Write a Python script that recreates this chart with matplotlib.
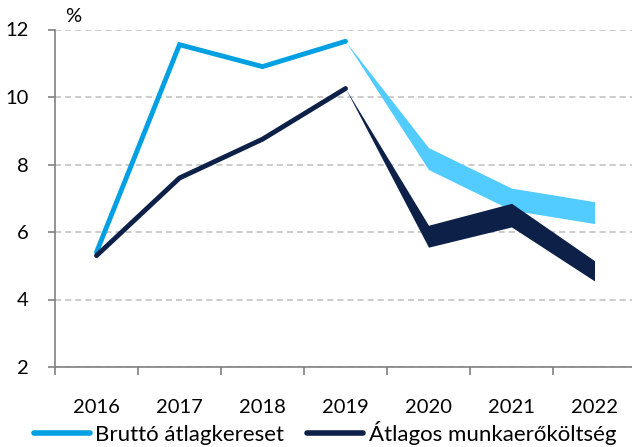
import matplotlib
matplotlib.use('Agg')
import matplotlib.pyplot as plt
from matplotlib.lines import Line2D

years = ['2016', '2017', '2018', '2019', '2020', '2021', '2022']

# actual values 2016-2019
gross_wage = [5.4, 11.55, 10.9, 11.65]
labour_cost = [5.3, 7.6, 8.75, 10.25]

# forecast ranges 2019-2022 (2019 is the last actual point)
gross_low = [11.65, 7.85, 6.65, 6.25]
gross_high = [11.65, 8.5, 7.3, 6.9]
cost_low = [10.25, 5.55, 6.15, 4.55]
cost_high = [10.25, 6.2, 6.85, 5.15]

labels = ['Bruttó átlagkereset', 'Átlagos munkaerőköltség']

LIGHT = '#00A0E3'
LIGHT_BAND = '#52CBFF'
DARK = '#0C2048'

plt.rcParams['font.family'] = ['Lato', 'DejaVu Sans']
plt.rcParams['font.size'] = 14.5

W, H = 632, 447
fig = plt.figure(figsize=(W / 100, H / 100), dpi=100)
ax = fig.add_axes([55 / W, 80 / H, 581 / W, 337.5 / H])

x_act = list(range(len(gross_wage)))
x_fc = list(range(len(gross_wage) - 1, len(years)))

ax.fill_between(x_fc, gross_low, gross_high, color=LIGHT_BAND, lw=0, zorder=2)
ax.fill_between(x_fc, cost_low, cost_high, color=DARK, lw=0, zorder=3)
ax.plot(x_act, gross_wage, color=LIGHT, lw=3.5, solid_capstyle='round',
        solid_joinstyle='miter', zorder=4)
ax.plot(x_act, labour_cost, color=DARK, lw=3.5, solid_capstyle='round',
        solid_joinstyle='miter', zorder=4)

ax.set_xlim(-0.5, len(years) - 0.5)
ax.set_ylim(2, 12)
ax.set_yticks([2, 4, 6, 8, 10, 12])
ax.set_xticks(range(len(years)))
ax.set_xticklabels(years)
ax.set_xticks([i - 0.5 for i in range(len(years) + 1)], minor=True)
ax.tick_params(axis='x', which='major', length=0, pad=23)
ax.tick_params(axis='x', which='minor', length=6, width=1.2, color='#808080')
ax.tick_params(axis='y', length=5, width=1.2, color='#808080', pad=14)

ax.yaxis.grid(True, color='#BFBFBF', lw=1.1, ls=(0, (4, 2.6)))
ax.set_axisbelow(True)
for s in ['top', 'right']:
    ax.spines[s].set_visible(False)
for s in ['left', 'bottom']:
    ax.spines[s].set_color('#808080')
    ax.spines[s].set_linewidth(1.2)

fig.text(73 / W, 1 - 17 / H, '%', ha='center', va='center')

handles = [Line2D([], [], color=LIGHT, lw=4, solid_capstyle='round'),
           Line2D([], [], color=DARK, lw=4, solid_capstyle='round')]
fig.legend(handles, labels, loc='center', bbox_to_anchor=(325 / W, 1 - 433 / H),
           ncol=2, frameon=False, fontsize=16, handlelength=2.5,
           handletextpad=0.25, columnspacing=1.05, borderpad=0)

fig.savefig('out.png', dpi=100)
